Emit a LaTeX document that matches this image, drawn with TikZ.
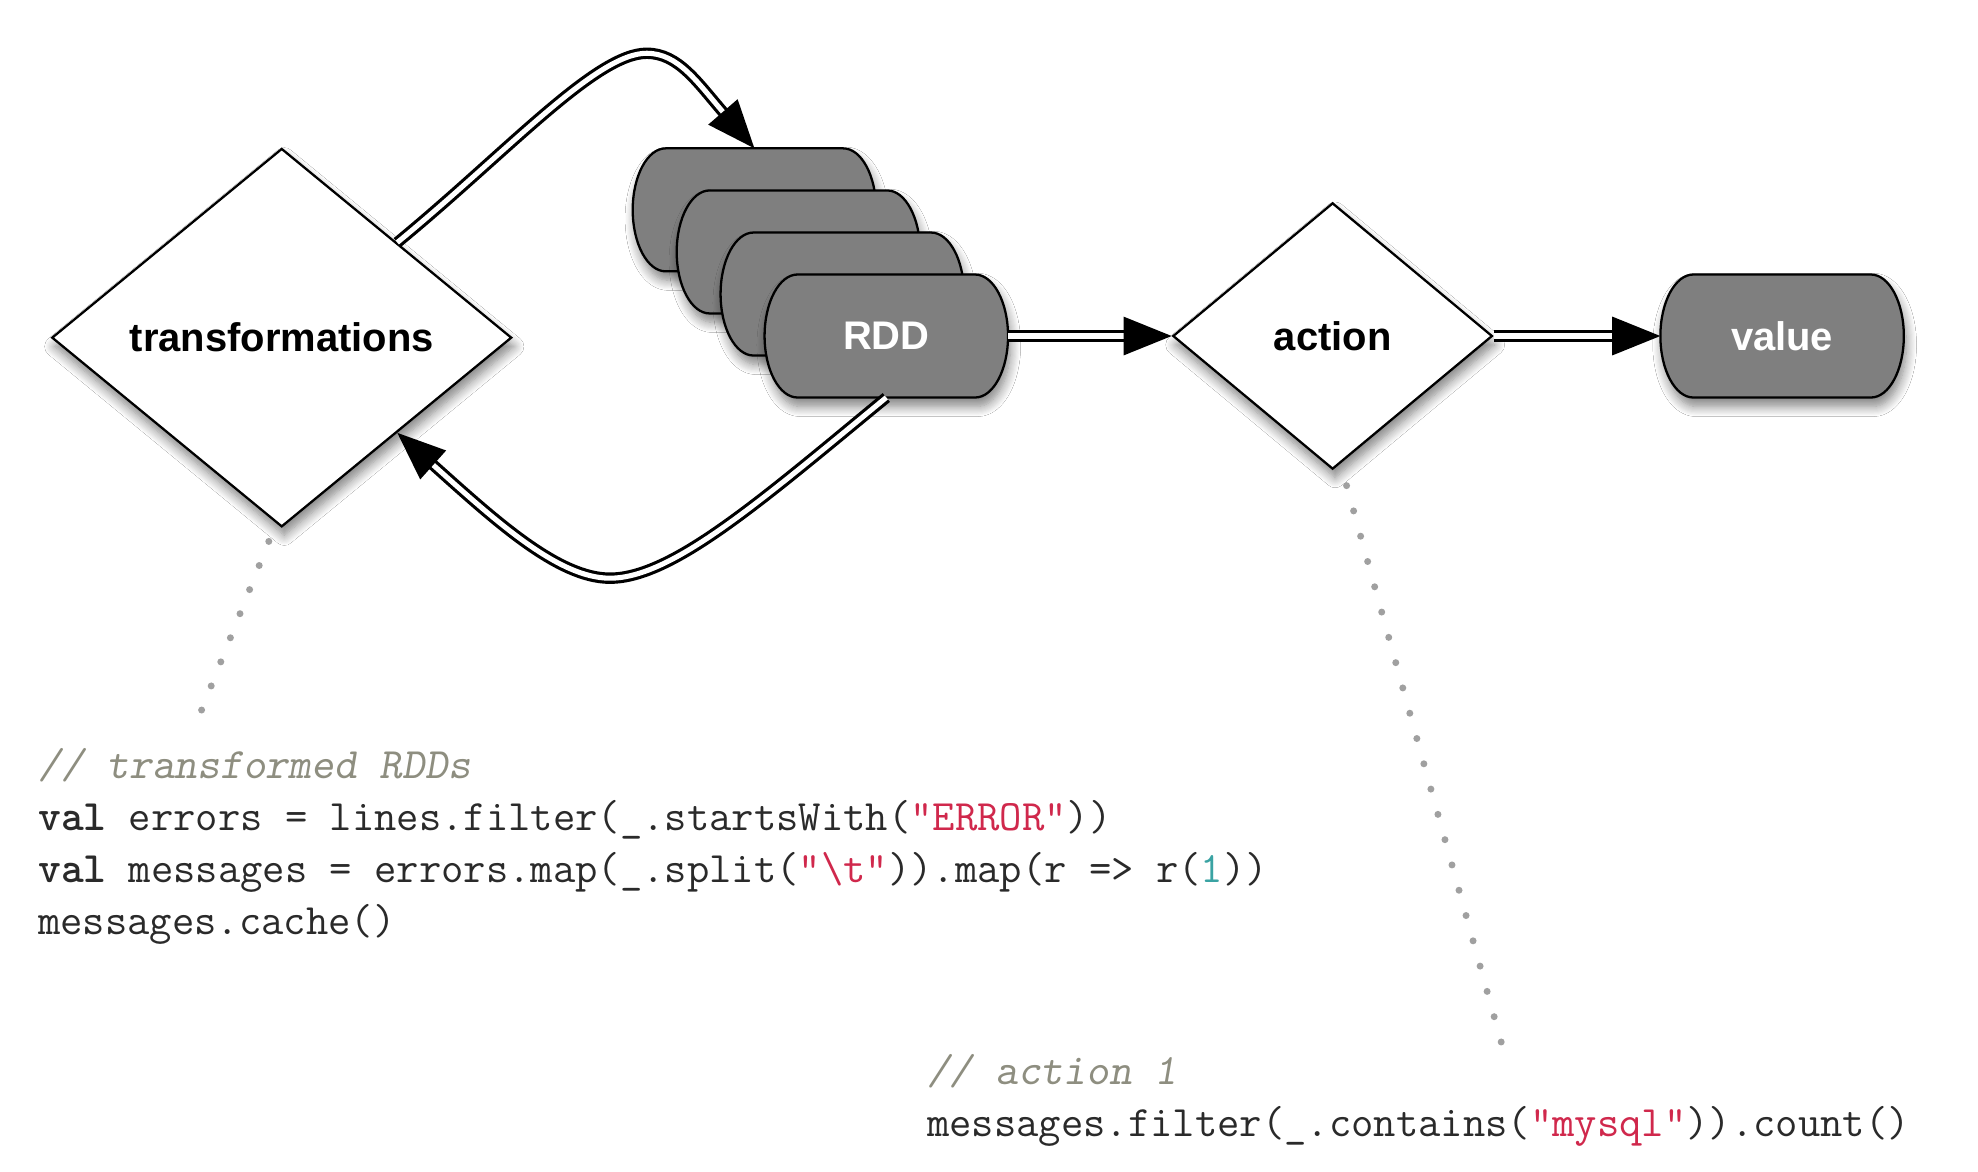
\documentclass[tikz,border=0pt]{standalone}
\usepackage{fontspec}
\setmainfont{Liberation Sans}
\usetikzlibrary{shapes.geometric,arrows.meta,calc,shadows.blur,backgrounds}
\definecolor{pillgray}{HTML}{7F7F7F}
\definecolor{codetext}{HTML}{2A2A2A}
\definecolor{commentc}{HTML}{8E8E80}
\definecolor{strred}{HTML}{D0284C}
\definecolor{numteal}{HTML}{3AA3A3}
\definecolor{dotgray}{HTML}{A0A0A0}
\tikzset{
  softshadow/.style={blur shadow={shadow xshift=2pt, shadow yshift=-7pt, shadow blur radius=8pt, shadow blur steps=10, shadow opacity=50}},
  decision/.style={diamond, draw=black, fill=white, line width=1.8pt, inner sep=0pt, font=\fontsize{31.5}{36}\selectfont\bfseries, softshadow},
  pillnode/.style={rectangle, draw=none, minimum width=192pt, minimum height=97pt, inner sep=0pt, outer sep=0pt, text=white, font=\fontsize{31.5}{36}\selectfont\bfseries},
  pillshape/.style={fill=pillgray, draw=black, line width=1.8pt, softshadow},
  flow/.style={draw=black, line width=2.5pt, double=white, double distance=4pt, -{Triangle[length=38pt,width=30pt]}},
  annot/.style={draw=dotgray, line width=5.5pt, line cap=round},
  codeline/.style={anchor=base west, inner sep=0pt, text=codetext, font=\ttfamily\fontsize{34.2}{40}\selectfont},
}
\newcommand{\pillpath}[1]{%
  \path[pillshape] ($(#1.north west)+(26pt,0pt)$) -- ($(#1.north east)+(-26pt,0pt)$)
    arc[start angle=90,end angle=-90,x radius=26pt,y radius=48.5pt]
    -- ($(#1.south west)+(26pt,0pt)$)
    arc[start angle=270,end angle=90,x radius=26pt,y radius=48.5pt] -- cycle;}
\begin{document}
\begin{tikzpicture}[x=1pt,y=-1pt]
\useasboundingbox (0,0) rectangle (1560,924.3);

% nodes
\node[decision, minimum width=362.7pt, minimum height=298.4pt] (tr) at (222.2,266.3) {transformations};
\node[decision, minimum width=252pt, minimum height=210pt] (act) at (1051,265) {action};
\node[pillnode] (s1) at (595,165.5) {};
\node[pillnode] (s2) at (629.7,198.7) {};
\node[pillnode] (s3) at (664.3,231.9) {};
\node[pillnode] (rdd) at (699,265) {RDD};
\node[pillnode] (val) at (1405.5,265) {value};

\begin{pgfonlayer}{background}
\fill[white] (0,0) rectangle (1560,924.3);
\pillpath{s1}
\pillpath{s2}
\pillpath{s3}
\pillpath{rdd}
\pillpath{val}
\end{pgfonlayer}

% connectors
\draw[flow] (rdd.east) -- (act.west);
\draw[flow] (act.east) -- (val.west);
\draw[flow] ($(tr.north)!0.5!(tr.east)$) .. controls (400,120) and (470,42) .. (510,42)
   .. controls (535,42) and (550,65) .. (s1.north);
\draw[flow] (rdd.south) .. controls (600,395) and (530,456) .. (481,456)
   .. controls (440,456) and (390,410) .. ($(tr.south)!0.5!(tr.east)$);

% dotted annotation lines
\coordinate (t1) at (212,427);
\coordinate (t2) at (159,560);
\coordinate (a1) at (1062,383);
\coordinate (a2) at (1184,822);
\draw[annot, dash pattern=on 0pt off 20.45pt] (t1) -- (t2);
\draw[annot, dash pattern=on 0pt off 20.7pt] (a1) -- (a2);

% code
\node[codeline] (c0) at (30,614) {\color{commentc}\slshape // transformed RDDs};
\node[codeline] (c1) at (30,655) {\textbf{val} errors = lines.filter(\_.startsWith(\textcolor{strred}{"ERROR"}))};
\node[codeline] (c2) at (30,696) {\textbf{val} messages = errors.map(\_.split(\textcolor{strred}{"\textbackslash t"})).map(r => r(\textcolor{numteal}{1}))};
\node[codeline] (c3) at (30,737) {messages.cache()};
\node[codeline] (d0) at (731,855) {\color{commentc}\slshape // action 1};
\node[codeline] (d1) at (731,896) {messages.filter(\_.contains(\textcolor{strred}{"mysql"})).count()};
\end{tikzpicture}
\end{document}
